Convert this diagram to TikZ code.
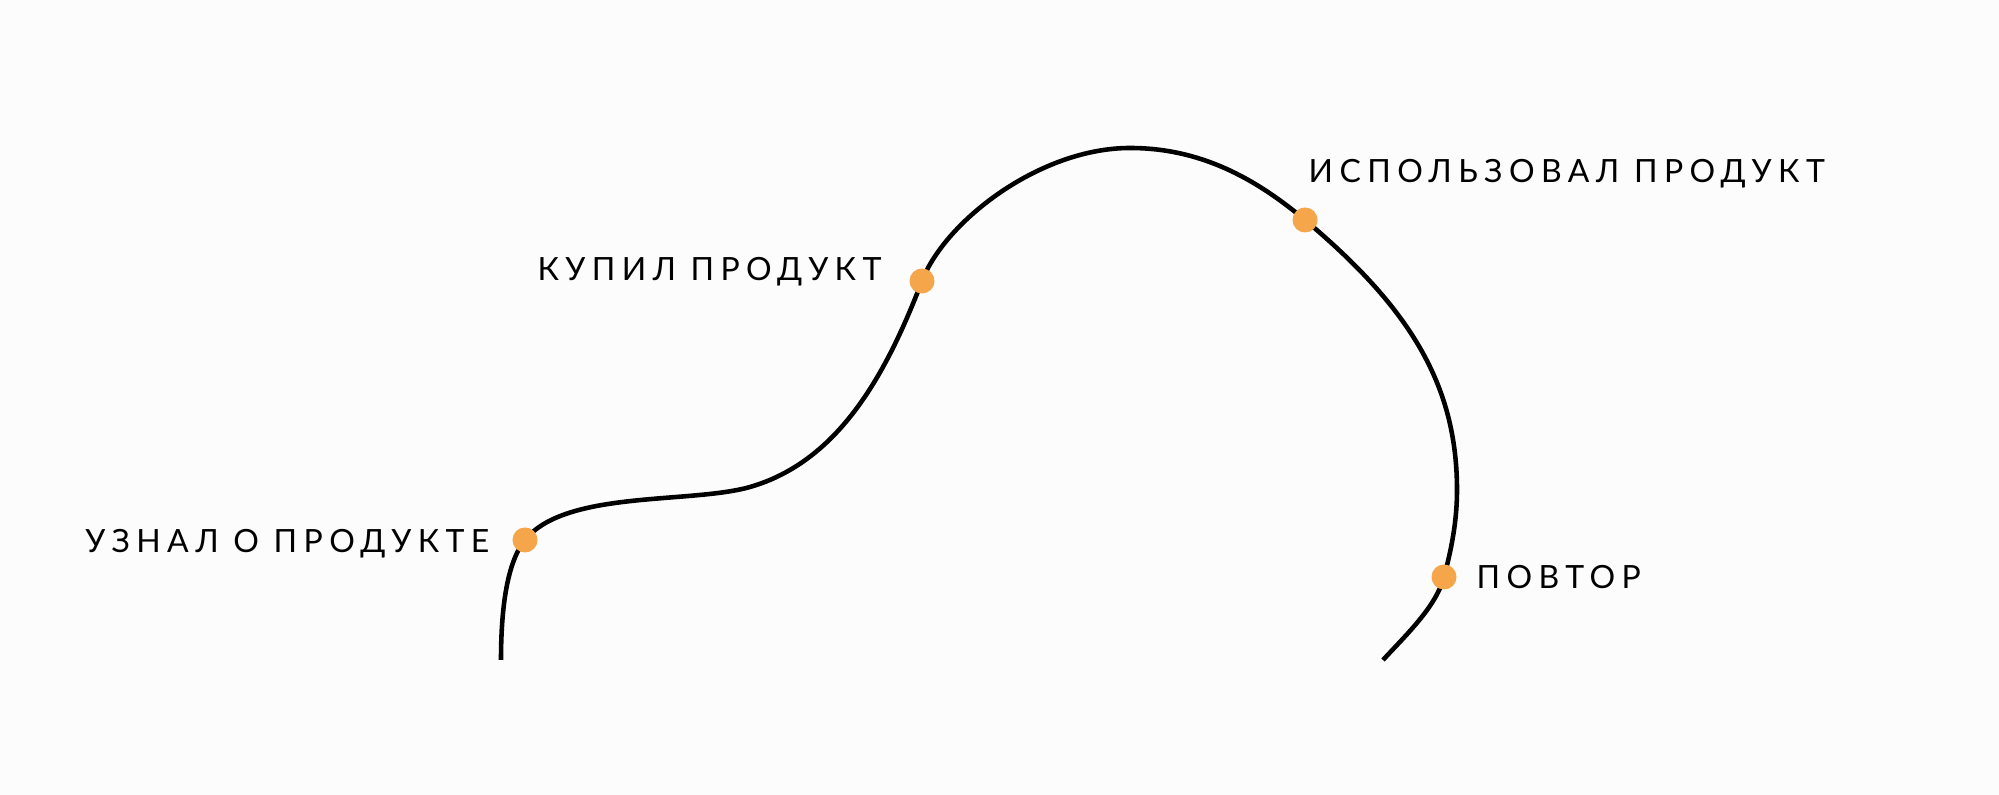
\documentclass[tikz,border=0pt]{standalone}
\usepackage{fontspec}
\setmainfont{Lato}[LetterSpace=20]
\definecolor{dotorange}{RGB}{245, 166, 75}
\definecolor{paper}{RGB}{252, 252, 252}
\usetikzlibrary{calc}
\tikzset{
  stage/.style={circle, fill=dotorange, inner sep=0, minimum size=0.25cm},
  caption/.style={inner sep=0, font=\fontsize{9.1}{11}\selectfont, text=black},
  journey/.style={line width=1.3pt, black}
}

\begin{document}
\begin{tikzpicture}[x=0.01cm, y=-0.01cm]
      \fill[paper] (0,0) rectangle (1999,795);
      \useasboundingbox (0,0) rectangle (1999,795);
      % points on the path
      \coordinate (start) at (501,660);
      \coordinate (p1) at (525,540);
      \coordinate (flat) at (750,487);
      \coordinate (p2) at (922,281);
      \coordinate (top) at (1130,148);
      \coordinate (p3) at (1305,220);
      \coordinate (side) at (1457,490);
      \coordinate (p4) at (1444,577);
      \coordinate (finish) at (1383,660);
      % the path
      \draw[journey] (start) .. controls (501,600) and (509,560) .. (p1)
        .. controls (565,490) and (690,504) .. (flat)
        .. controls (840,461) and (887,372) .. (p2)
        .. controls (945,221) and (1040,148) .. (top)
        .. controls (1200,148) and (1255,178) .. (p3)
        .. controls (1410,308) and (1457,385) .. (side)
        .. controls (1457,520) and (1452,547) .. (p4)
        .. controls (1436,607) and (1405,636) .. (finish);
      % stages
      \node[stage] (uznal) at (p1) {};
      \node[stage] (kupil) at (p2) {};
      \node[stage] (ispolzoval) at (p3) {};
      \node[stage] (povtor) at (p4) {};
      \node[caption, anchor=base east] (uznal text) at ([shift={(-35,13)}]uznal.center) {УЗНАЛ О ПРОДУКТЕ};
      \node[caption, anchor=base east] (kupil text) at ([shift={(-40,0)}]kupil.center) {КУПИЛ ПРОДУКТ};
      \node[caption, anchor=base west] (ispolzoval text) at ([shift={(3,-37)}]ispolzoval.center) {ИСПОЛЬЗОВАЛ ПРОДУКТ};
      \node[caption, anchor=base west] (povtor text) at ([shift={(32,12)}]povtor.center) {ПОВТОР};
    \end{tikzpicture}
\end{document}
